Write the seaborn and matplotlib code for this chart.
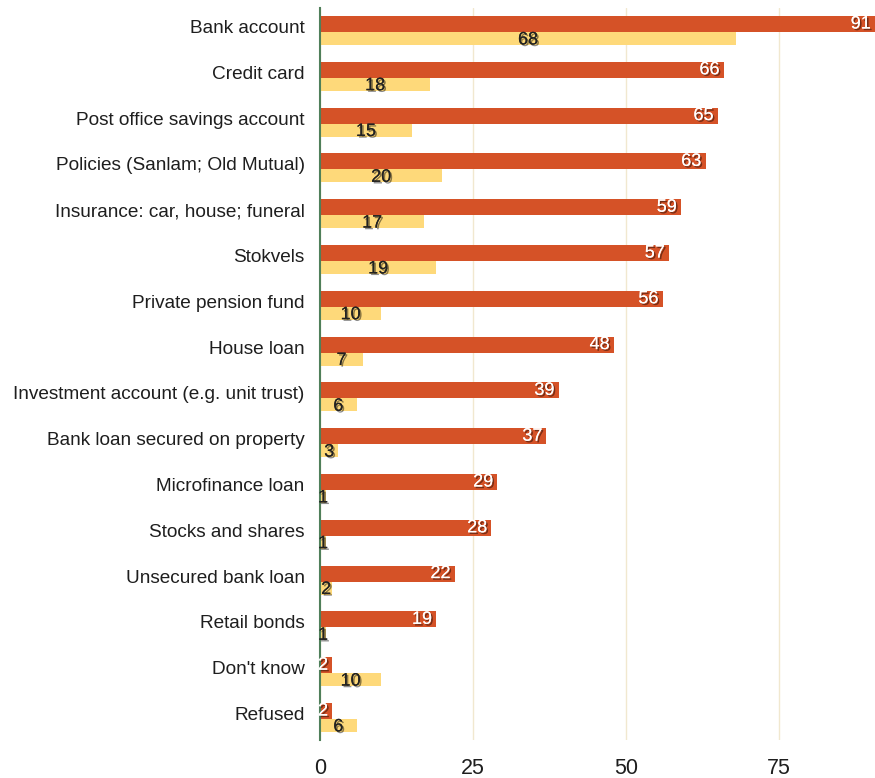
import matplotlib
matplotlib.use("Agg")
import matplotlib.pyplot as plt
import matplotlib.patheffects as pe
import matplotlib.transforms as mtransforms
import seaborn as sns
import pandas as pd

categories = ["Bank account", "Credit card", "Post office savings account",
              "Policies (Sanlam; Old Mutual)", "Insurance: car, house; funeral",
              "Stokvels", "Private pension fund", "House loan",
              "Investment account (e.g. unit trust)", "Bank loan secured on property",
              "Microfinance loan", "Stocks and shares", "Unsecured bank loan",
              "Retail bonds", "Don't know", "Refused"]
series_a = [91, 66, 65, 63, 59, 57, 56, 48, 39, 37, 29, 28, 22, 19, 2, 2]
series_b = [68, 18, 15, 20, 17, 19, 10, 7, 6, 3, 1, 1, 2, 1, 10, 6]
series_names = ["A", "B"]

ORANGE = "#d55227"
YELLOW = "#fed97a"

df = pd.DataFrame({
    "category": categories * 2,
    "value": series_a + series_b,
    "series": [series_names[0]] * len(categories) + [series_names[1]] * len(categories),
})

sns.set_style("white")
plt.rcParams["font.family"] = ["Liberation Sans", "DejaVu Sans"]

fig = plt.figure(figsize=(8.75, 7.78), dpi=100)
ax = fig.add_axes([320 / 875, (778 - 740.4) / 778, 1 - 320 / 875, (740.4 - 7.6) / 778])

sns.barplot(data=df, y="category", x="value", hue="series", order=categories,
            hue_order=series_names, palette=[ORANGE, YELLOW], width=0.634,
            dodge=True, orient="h", legend=False, ax=ax, saturation=1)

n = len(categories)
bars_a = ax.patches[:n]
bars_b = ax.patches[n:2 * n]
for p in bars_a:
    p.set_height(0.35)
    p.set_linewidth(0)
for p in bars_b:
    p.set_y(p.get_y() + 0.033)
    p.set_height(0.284)
    p.set_linewidth(0)

ax.set_xlim(0, 90.7)
ax.set_ylim(n - 0.5, -0.5)
ax.set_xticks([0, 25, 50, 75])
ax.set_xlabel("")
ax.set_ylabel("")

ax.xaxis.grid(True, color="#f1e8cf", linewidth=1)
ax.set_axisbelow(True)
for s in ["top", "right", "bottom"]:
    ax.spines[s].set_visible(False)
ax.spines["left"].set_color("#4f7f5a")
ax.spines["left"].set_linewidth(1.5)

ax.tick_params(axis="y", length=0, pad=11, labelsize=13.7, labelcolor="#1e1e1e")
ax.tick_params(axis="x", length=0, pad=13, labelsize=15.5, labelcolor="#1e1e1e")

offset = mtransforms.ScaledTranslation(0, 4 / 100, fig.dpi_scale_trans)
for lab in ax.get_yticklabels():
    lab.set_transform(lab.get_transform() + offset)

shadow = [pe.withSimplePatchShadow(offset=(1.2, -1.2), shadow_rgbFace="black", alpha=0.45), pe.Normal()]

for p, v in zip(bars_a, series_a):
    x_end = min(p.get_x() + p.get_width(), 90.7)
    yc = p.get_y() + p.get_height() / 2
    ax.annotate(str(v), xy=(x_end, yc), xytext=(-3, 0), textcoords="offset points",
                ha="right", va="center", color="white", fontsize=13,
                path_effects=shadow, annotation_clip=False)

for p, v in zip(bars_b, series_b):
    xc = p.get_x() + p.get_width() / 2
    yc = p.get_y() + p.get_height() / 2
    ax.annotate(str(v), xy=(xc, yc), xytext=(0, -1), textcoords="offset points",
                ha="center", va="center", color="#222222", fontsize=13,
                path_effects=shadow, annotation_clip=False)

fig.savefig("out.png", dpi=100)
